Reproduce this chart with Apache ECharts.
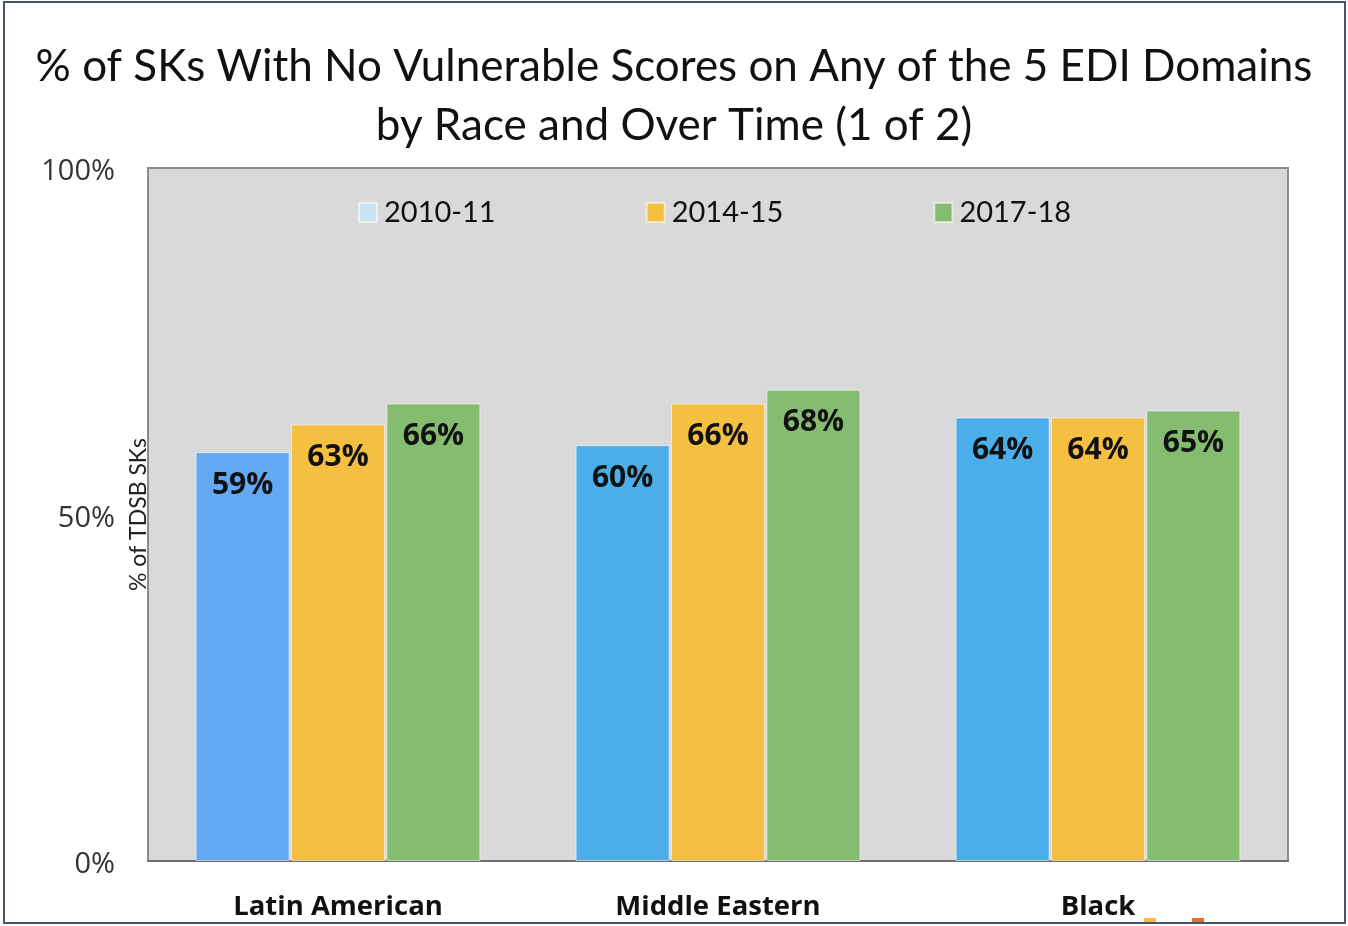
<!DOCTYPE html>
<html>
<head>
<meta charset="utf-8">
<script src="https://cdn.jsdelivr.net/npm/echarts@6/dist/echarts.min.js"></script>
<style>
  html, body { margin: 0; padding: 0; background: #fff; }
  #chart { width: 1348px; height: 926px; }
</style>
</head>
<body>
<div id="chart"></div>
<script>
// Groups and survey years
const categories = ['Latin American', 'Middle Eastern', 'Black'];
const years = ['2010-11', '2014-15', '2017-18'];

// % of SKs with no vulnerable scores, per year
const values2010 = [59, 60, 64];
const values2014 = [63, 66, 64];
const values2017 = [66, 68, 65];

const yTicks = [0, 50, 100];

const blueBars = ['#62A9F5', '#4BAEE8', '#4BAEE8'];
const colors = { '2010-11': '#C9E4F1', '2014-15': '#F5BF42', '2017-18': '#85BD70' };

const chart = echarts.init(document.getElementById('chart'));

const labelStyle = {
  show: true,
  position: 'insideTop',
  distance: 18,
  formatter: p => p.value + '%',
  color: '#111',
  fontFamily: 'Open Sans',
  fontWeight: 'bold',
  fontSize: 30
};

function series(name, data, itemColors) {
  return {
    name: name,
    type: 'bar',
    barWidth: 94,
    barGap: '1.5%',
    itemStyle: { color: colors[name], borderColor: 'rgba(255,255,255,0.55)', borderWidth: 1 },
    data: data.map((v, i) => itemColors ? { value: v, itemStyle: { color: itemColors[i] } } : v),
    label: labelStyle
  };
}

chart.setOption({
  backgroundColor: '#fff',
  animation: false,
  title: {
    text: '% of SKs With No Vulnerable Scores on Any of the 5 EDI Domains\nby Race and Over Time (1 of 2)',
    left: 'center',
    top: 32,
    textStyle: { fontFamily: 'Lato', fontWeight: 'normal', fontSize: 44, lineHeight: 59, color: '#111' }
  },
  legend: {
    left: 353,
    top: 193,
    itemGap: 150,
    itemWidth: 18,
    itemHeight: 19,
    icon: 'rect',
    textStyle: { fontFamily: 'Lato', fontSize: 29, color: '#111', padding: [0, 0, 0, 2] },
    data: years
  },
  grid: {
    left: 148, top: 168, right: 60, bottom: 65,
    show: true, backgroundColor: '#D9D9D9', borderColor: '#8C8C8C', borderWidth: 2
  },
  xAxis: {
    type: 'category',
    data: categories,
    axisTick: { show: false },
    axisLine: { show: true, lineStyle: { color: '#6E6E6E', width: 2 } },
    axisLabel: {
      margin: 32,
      fontFamily: 'Open Sans', fontWeight: 'bold', fontSize: 27.5, color: '#111'
    }
  },
  yAxis: {
    type: 'value',
    min: yTicks[0],
    max: yTicks[yTicks.length - 1],
    interval: 50,
    name: '% of TDSB SKs',
    nameLocation: 'middle',
    nameGap: -2,
    nameMoveOverlap: false,
    nameRotate: 90,
    nameTextStyle: { fontFamily: 'Lato', fontSize: 23, color: '#222' },
    splitLine: { show: false },
    axisLine: { show: false },
    axisTick: { show: false },
    axisLabel: {
      margin: 33,
      formatter: v => '{p|' + v + '%}',
      rich: { p: { fontFamily: 'Open Sans', fontSize: 29, color: '#333', padding: [8, 0, 0, 0] } }
    }
  },
  series: [
    series('2010-11', values2010, blueBars),
    series('2014-15', values2014),
    series('2017-18', values2017)
  ],
  graphic: [
    {
      type: 'rect', silent: true,
      shape: { x: 4, y: 2, width: 1341, height: 921 },
      style: { fill: 'none', stroke: '#45566B', lineWidth: 2 }
    },
    { type: 'rect', silent: true, shape: { x: 1144, y: 918, width: 12, height: 4 }, style: { fill: '#F5BF42' } },
    { type: 'rect', silent: true, shape: { x: 1192, y: 918, width: 12, height: 4 }, style: { fill: '#E0703A' } }
  ]
});
</script>
</body>
</html>
